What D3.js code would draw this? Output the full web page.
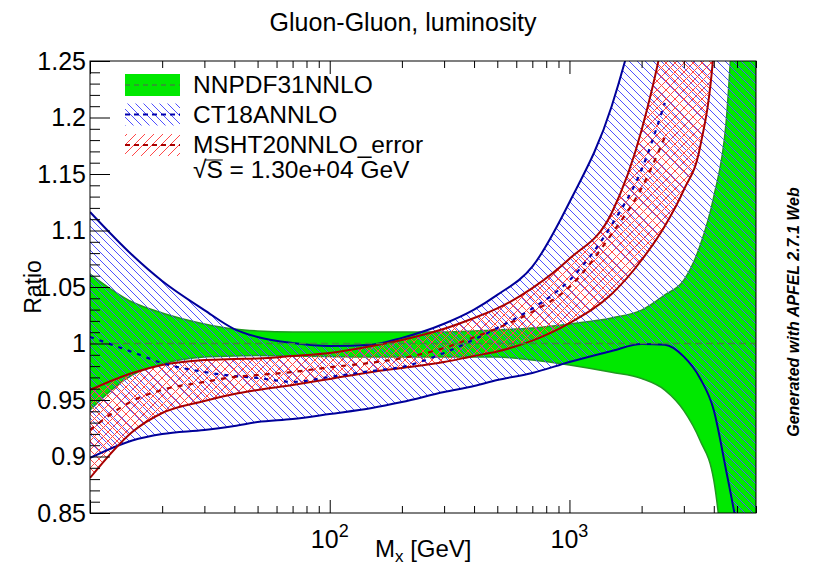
<!DOCTYPE html>
<html>
<head>
<meta charset="utf-8">
<script src="https://cdn.jsdelivr.net/npm/d3@7"></script>
<style>
body { margin: 0; background: #fff; }
text { font-family: "Liberation Sans", Arial, Helvetica, sans-serif; }
</style>
</head>
<body>
<script>
var w = 831, h = 565;

// invariant mass grid (GeV)
var mass = [10, 15, 20, 30, 40, 50, 70, 100, 150, 200, 300, 400, 500, 700, 1000, 1500, 2000, 2500, 3000, 3500, 4000, 4500, 5000, 6000];

// NNPDF31NNLO (reference, central = 1)
var nnpdfUp  = [1.0615, 1.0367, 1.027, 1.0173, 1.0128, 1.0111, 1.0102, 1.0102, 1.0102, 1.0102, 1.0102, 1.011, 1.012, 1.0137, 1.0173, 1.0226, 1.0296, 1.043, 1.056, 1.086, 1.13, 1.195, 1.35, 1.6];
var nnpdfLo  = [0.9412, 0.9721, 0.9819, 0.9881, 0.9889, 0.9894, 0.9889, 0.9885, 0.988, 0.988, 0.988, 0.988, 0.988, 0.9854, 0.981, 0.9745, 0.969, 0.9588, 0.9406, 0.9146, 0.879, 0.78, 0.65, 0.5];

// CT18ANNLO
var ct18Cen  = [1.0058, 0.9925, 0.9827, 0.9748, 0.9712, 0.9695, 0.966, 0.9704, 0.9757, 0.9792, 0.9916, 1.0035, 1.0137, 1.031, 1.056, 1.105, 1.154, 1.213, null, null, null, null, null, null];
var ct18Up   = [1.1164, 1.0783, 1.0553, 1.0296, 1.0128, 1.0058, 1.0004, 0.9978, 0.999, 1.005, 1.0175, 1.030, 1.043, 1.068, 1.125, 1.21, 1.31, 1.42, 1.55, 1.7, 1.85, 2.0, 2.1, 2.3];
var ct18Lo   = [0.8987, 0.9142, 0.9199, 0.9235, 0.927, 0.9305, 0.9332, 0.9376, 0.9429, 0.9482, 0.957, 0.9624, 0.9677, 0.9739, 0.9836, 0.9934, 0.9996, 0.999, 0.9884, 0.9695, 0.941, 0.888, 0.837, 0.72];

// MSHT20NNLO_error
var mshtCen  = [0.9235, 0.9491, 0.9589, 0.966, 0.9704, 0.9721, 0.9748, 0.979, 0.983, 0.987, 0.996, 1.0055, 1.0135, 1.028, 1.05, 1.0969, 1.1376, 1.1827, null, null, null, null, null, null];
var mshtUp   = [0.9589, 0.9739, 0.981, 0.9854, 0.9863, 0.9867, 0.9889, 0.9916, 0.9978, 1.0031, 1.013, 1.0226, 1.031, 1.049, 1.075, 1.1155, 1.189, 1.28, 1.4, 1.55, 1.7, 1.85, 2.0, 2.2];
var mshtLo   = [0.881, 0.9217, 0.9385, 0.9491, 0.9553, 0.9588, 0.9633, 0.9686, 0.9748, 0.9783, 0.9836, 0.989, 0.993, 1.0025, 1.018, 1.0438, 1.0739, 1.104, 1.136, 1.173, 1.26, 1.45, 1.6, 1.8];

var yMajor = [0.85, 0.9, 0.95, 1, 1.05, 1.1, 1.15, 1.2, 1.25];
var yMinor = [];
for (var i = 85; i <= 125; i++) { if (i % 5 != 0) yMinor.push(i / 100); }
var xMajor = [10, 100, 1000];
var xMinor = [20, 30, 40, 50, 60, 70, 80, 90, 200, 300, 400, 500, 600, 700, 800, 900, 2000, 3000, 4000, 5000, 6000];
var xLabels = [{v: 100, e: "2"}, {v: 1000, e: "3"}];

var legendNames = ["NNPDF31NNLO", "CT18ANNLO", "MSHT20NNLO_error"];

var x = d3.scaleLog().domain([10, 6000]).range([90, 756]);
var y = d3.scaleLinear().domain([0.85, 1.25]).range([513, 61]);

var svg = d3.select("body").append("svg")
  .attr("width", w)
  .attr("height", h);

var defs = svg.append("defs");
defs.append("clipPath").attr("id", "plotclip")
  .append("rect").attr("x", 90).attr("y", 61).attr("width", 666).attr("height", 452);

var pb = defs.append("pattern").attr("id", "hatchBlue")
  .attr("patternUnits", "userSpaceOnUse").attr("width", 8).attr("height", 8);
pb.append("path").attr("d", "M0,0L8,8M-2,6L2,10M6,-2L10,2")
  .attr("stroke", "#5050ff").attr("stroke-width", 1);

var pr = defs.append("pattern").attr("id", "hatchRed")
  .attr("patternUnits", "userSpaceOnUse").attr("width", 9).attr("height", 9);
pr.append("path").attr("d", "M0,9L9,0M-2,2L2,-2M7,11L11,7M0,0L9,9M-2,7L2,11M7,-2L11,2")
  .attr("stroke", "#ff4848").attr("stroke-width", 1);

var prl = defs.append("pattern").attr("id", "hatchRedLeg")
  .attr("patternUnits", "userSpaceOnUse").attr("width", 9).attr("height", 9);
prl.append("path").attr("d", "M0,9L9,0M-2,2L2,-2M7,11L11,7")
  .attr("stroke", "#ff4848").attr("stroke-width", 1);

var rows = mass.map(function(m, i) {
  return {m: m, nU: nnpdfUp[i], nL: nnpdfLo[i], cC: ct18Cen[i], cU: ct18Up[i], cL: ct18Lo[i],
          mC: mshtCen[i], mU: mshtUp[i], mL: mshtLo[i]};
});

function band(lo, hi) {
  return d3.area().curve(d3.curveMonotoneX)
    .x(function(d) { return x(d.m); })
    .y0(function(d) { return y(d[lo]); })
    .y1(function(d) { return y(d[hi]); });
}
function line(k) {
  return d3.line().curve(d3.curveMonotoneX)
    .defined(function(d) { return d[k] != null; })
    .x(function(d) { return x(d.m); })
    .y(function(d) { return y(d[k]); });
}

var plot = svg.append("g").attr("clip-path", "url(#plotclip)");

// bands
plot.append("path").attr("d", band("nL", "nU")(rows))
  .attr("fill", "#00e800").attr("stroke", "#1f9a1f").attr("stroke-width", 1.5);
plot.append("path").attr("d", band("cL", "cU")(rows)).attr("fill", "url(#hatchBlue)");
plot.append("path").attr("d", band("mL", "mU")(rows)).attr("fill", "url(#hatchRed)");

// band edges
["cU", "cL"].forEach(function(k) {
  plot.append("path").attr("d", line(k)(rows)).attr("fill", "none")
    .attr("stroke", "#00009a").attr("stroke-width", 2);
});
["mU", "mL"].forEach(function(k) {
  plot.append("path").attr("d", line(k)(rows)).attr("fill", "none")
    .attr("stroke", "#a80000").attr("stroke-width", 2);
});

// centrals
plot.append("line").attr("x1", x(10)).attr("x2", x(6000)).attr("y1", y(1)).attr("y2", y(1))
  .attr("stroke", "#3a8a3a").attr("stroke-width", 1.5).attr("stroke-dasharray", "7,4");
plot.append("path").attr("d", line("cC")(rows)).attr("fill", "none")
  .attr("stroke", "#0000b0").attr("stroke-width", 2.2).attr("stroke-dasharray", "4,6");
plot.append("path").attr("d", line("mC")(rows)).attr("fill", "none")
  .attr("stroke", "#b00000").attr("stroke-width", 2.2).attr("stroke-dasharray", "5,6");

// frame
svg.append("rect").attr("x", 90).attr("y", 61).attr("width", 666).attr("height", 452)
  .attr("fill", "none").attr("stroke", "#000").attr("stroke-width", 1);

function styleAxis(g) {
  g.select(".domain").remove();
  g.selectAll("line").attr("stroke", "#000").attr("stroke-width", 1);
}

svg.append("g").attr("transform", "translate(0,513)")
  .call(d3.axisBottom(x).tickValues(xMinor).tickSize(-7).tickFormat("")).call(styleAxis);
svg.append("g").attr("transform", "translate(0,513)")
  .call(d3.axisBottom(x).tickValues(xMajor).tickSize(-13).tickFormat("")).call(styleAxis);
svg.append("g").attr("transform", "translate(0,61)")
  .call(d3.axisTop(x).tickValues(xMinor).tickSize(-7).tickFormat("")).call(styleAxis);
svg.append("g").attr("transform", "translate(0,61)")
  .call(d3.axisTop(x).tickValues(xMajor).tickSize(-13).tickFormat("")).call(styleAxis);

svg.append("g").attr("transform", "translate(90,0)")
  .call(d3.axisLeft(y).tickValues(yMinor).tickSize(-10).tickFormat("")).call(styleAxis);
var ya = svg.append("g").attr("transform", "translate(90,0)")
  .call(d3.axisLeft(y).tickValues(yMajor).tickSize(-20).tickPadding(4).tickFormat(function(d) { return String(d); }))
  .call(styleAxis);
ya.attr("font-family", null).attr("font-size", null);
ya.selectAll("text").style("font-size", "25px").attr("fill", "#000");

// x tick labels 10^n
xLabels.forEach(function(l) {
  var t = svg.append("text").attr("x", x(l.v)).attr("y", 548)
    .attr("text-anchor", "middle").style("font-size", "25px");
  t.append("tspan").text("10");
  t.append("tspan").attr("dy", -11).style("font-size", "18px").text(l.e);
});

// titles
svg.append("text").attr("x", 403).attr("y", 31).attr("text-anchor", "middle")
  .style("font-size", "25px").text("Gluon-Gluon, luminosity");

var xl = svg.append("text").attr("x", 375).attr("y", 557).style("font-size", "24px");
xl.append("tspan").text("M");
xl.append("tspan").attr("dy", 5).style("font-size", "17px").text("x");
xl.append("tspan").attr("dy", -5).text(" [GeV]");

svg.append("text").attr("transform", "translate(41,287) rotate(-90)")
  .attr("text-anchor", "middle").style("font-size", "23px").text("Ratio");

svg.append("text").attr("transform", "translate(799,312) rotate(-90)")
  .attr("text-anchor", "middle").style("font-size", "16px")
  .style("font-weight", "bold").style("font-style", "italic")
  .text("Generated with APFEL 2.7.1 Web");

// legend
var leg = svg.append("g");
var legY = [85, 114.5, 145];
leg.append("rect").attr("x", 125).attr("y", legY[0] - 11).attr("width", 55).attr("height", 22).attr("fill", "#00e800");
leg.append("rect").attr("x", 125).attr("y", legY[1] - 11).attr("width", 55).attr("height", 22).attr("fill", "url(#hatchBlue)");
leg.append("rect").attr("x", 125).attr("y", legY[2] - 11).attr("width", 55).attr("height", 22).attr("fill", "url(#hatchRedLeg)");
leg.append("line").attr("x1", 125).attr("x2", 180).attr("y1", legY[0]).attr("y2", legY[0])
  .attr("stroke", "#3a8a3a").attr("stroke-width", 1.5).attr("stroke-dasharray", "5,4");
leg.append("line").attr("x1", 125).attr("x2", 180).attr("y1", legY[1]).attr("y2", legY[1])
  .attr("stroke", "#0000b0").attr("stroke-width", 2.2).attr("stroke-dasharray", "5,4");
leg.append("line").attr("x1", 125).attr("x2", 180).attr("y1", legY[2]).attr("y2", legY[2])
  .attr("stroke", "#a80000").attr("stroke-width", 2.2).attr("stroke-dasharray", "5,4");
legendNames.forEach(function(n, i) {
  leg.append("text").attr("x", 193).attr("y", legY[i] + 8).style("font-size", "24.5px").text(n);
});
var sq = leg.append("text").attr("x", 193).attr("y", 178).style("font-size", "24.5px");
sq.append("tspan").text("\u221A");
sq.append("tspan").text("S = 1.30e+04 GeV");
var node = sq.node();
var rx = 193 + node.getSubStringLength(0, 1);
var sx = rx + node.getSubStringLength(1, 1);
leg.append("line").attr("x1", rx - 1).attr("x2", sx).attr("y1", 160).attr("y2", 160)
  .attr("stroke", "#000").attr("stroke-width", 1);
</script>
</body>
</html>
